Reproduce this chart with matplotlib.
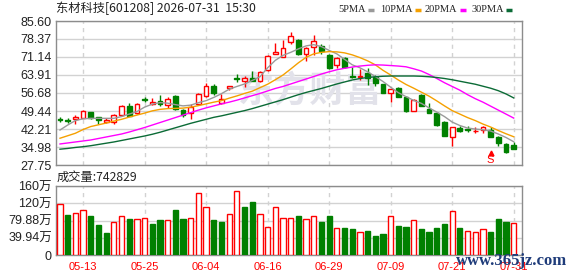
import matplotlib
matplotlib.use('Agg')
import matplotlib.pyplot as plt
from matplotlib.lines import Line2D
import numpy as np

plt.rcParams['font.family'] = ['Liberation Sans', 'Noto Sans CJK SC']

W, H = 578, 276

# trading days shown on the chart
dates = ['05-08', '05-11', '05-12', '05-13', '05-14', '05-15', '05-18', '05-19', '05-20', '05-21',
         '05-22', '05-25', '05-26', '05-27', '05-28', '05-29', '06-01', '06-02', '06-03', '06-04',
         '06-05', '06-08', '06-09', '06-10', '06-11', '06-12', '06-15', '06-16', '06-17', '06-18',
         '06-22', '06-23', '06-24', '06-25', '06-26', '06-29', '06-30', '07-01', '07-02', '07-03',
         '07-06', '07-07', '07-08', '07-09', '07-10', '07-13', '07-14', '07-15', '07-16', '07-17',
         '07-20', '07-21', '07-22', '07-23', '07-24', '07-27', '07-28', '07-29', '07-30', '07-31']

opens = [46.2, 45.7, 46.1, 46.8, 48.9, 46.9, 45.0, 45.1, 47.8, 51.6,
         48.8, 54.2, 52.3, 53.5, 51.9, 55.5, 49.9, 48.5, 52.1, 55.6,
         59.5, 52.5, 58.6, 62.7, 61.6, 62.6, 61.6, 65.9, 72.5, 71.3,
         77.0, 78.0, 72.2, 75.3, 75.6, 71.9, 67.9, 70.9, 63.4, 63.0,
         64.8, 63.0, 60.3, 56.8, 58.6, 55.2, 49.6, 55.9, 50.1, 48.8,
         45.2, 38.9, 42.8, 42.2, 41.4, 41.8, 41.8, 38.9, 36.2, 35.8]
highs = [47.2, 46.5, 47.8, 49.8, 49.2, 47.0, 46.5, 48.1, 52.0, 52.8,
         52.6, 55.2, 54.5, 55.9, 55.2, 56.0, 50.2, 52.1, 56.6, 60.6,
         60.3, 56.2, 59.6, 64.3, 63.6, 65.5, 65.5, 72.0, 76.6, 78.0,
         81.1, 78.4, 75.0, 80.0, 76.4, 72.2, 71.3, 71.3, 67.0, 66.3,
         66.6, 63.9, 60.4, 58.4, 59.0, 55.6, 54.2, 56.3, 52.5, 49.2,
         45.6, 43.0, 43.6, 43.6, 42.9, 43.4, 42.9, 39.4, 36.5, 37.1]
lows = [45.0, 44.6, 44.2, 46.5, 46.1, 44.2, 44.6, 44.4, 47.4, 47.4,
        48.4, 52.9, 51.9, 51.6, 50.5, 49.7, 47.2, 46.1, 51.9, 55.2,
        55.9, 52.1, 57.9, 61.2, 59.2, 61.3, 61.2, 65.6, 72.2, 71.3,
        76.2, 72.0, 69.5, 71.9, 72.2, 66.2, 66.8, 66.8, 62.6, 61.9,
        59.9, 59.5, 56.7, 53.2, 54.9, 49.0, 49.4, 51.5, 48.5, 43.6,
        39.2, 35.4, 40.9, 41.1, 40.5, 40.7, 39.1, 35.4, 32.5, 34.2]
closes = [46.0, 45.5, 47.2, 49.4, 46.8, 45.8, 45.8, 47.8, 51.6, 47.6,
          52.3, 54.0, 53.2, 52.1, 54.1, 50.1, 47.8, 51.2, 56.2, 59.6,
          56.8, 54.3, 59.5, 62.5, 62.6, 61.5, 65.0, 71.7, 73.0, 74.6,
          79.7, 72.2, 74.9, 77.6, 73.7, 66.6, 70.6, 67.2, 63.1, 63.4,
          62.8, 60.6, 56.8, 58.2, 54.9, 49.4, 53.9, 51.5, 48.8, 43.8,
          39.4, 42.9, 41.5, 41.9, 41.6, 42.9, 39.1, 36.7, 32.9, 34.2]

# moving averages
ma5 = [41.8, 43.8, 45.6, 46.3, 46.5, 46.5, 46.5, 46.5, 47.2, 48.2,
       49.2, 51.0, 52.2, 52.8, 52.6, 52.0, 51.5, 51.8, 52.8, 53.6,
       54.9, 56.4, 58.2, 59.3, 60.3, 61.7, 63.2, 66.8, 69.8, 71.8,
       73.0, 74.4, 75.6, 76.1, 75.3, 73.8, 72.4, 70.2, 68.0, 66.8,
       65.2, 63.3, 61.3, 59.0, 56.8, 55.2, 53.7, 52.5, 50.7, 49.0,
       47.2, 45.0, 43.6, 42.6, 42.2, 41.9, 41.4, 40.2, 38.8, 37.1]
ma10 = [38.5, 39.5, 40.5, 42.0, 43.2, 43.9, 44.6, 45.4, 46.1, 47.0,
        47.8, 48.6, 49.5, 50.1, 50.4, 50.5, 50.6, 51.0, 51.6, 52.3,
        53.0, 53.6, 54.6, 55.5, 56.5, 57.4, 58.8, 60.2, 62.0, 63.9,
        66.3, 68.8, 71.0, 72.4, 73.0, 73.3, 73.2, 72.8, 72.0, 70.9,
        69.6, 68.0, 65.8, 63.9, 61.9, 60.1, 58.6, 57.0, 55.4, 53.5,
        51.5, 49.6, 48.2, 46.8, 45.6, 44.2, 43.0, 41.6, 40.3, 39.1]
ma20 = [36.2, 36.6, 37.0, 37.4, 37.8, 38.4, 39.0, 39.6, 40.2, 41.0,
        41.9, 42.8, 43.8, 44.8, 45.8, 46.8, 47.8, 48.8, 49.8, 50.7,
        51.5, 52.3, 53.0, 53.8, 54.7, 55.6, 56.5, 57.5, 58.5, 59.3,
        60.3, 61.3, 62.3, 63.3, 64.3, 65.2, 66.0, 66.6, 67.1, 67.5,
        67.8, 68.0, 67.9, 67.7, 67.5, 67.2, 66.4, 65.5, 64.1, 62.5,
        60.8, 59.3, 57.8, 56.0, 54.4, 53.0, 51.4, 49.8, 48.2, 46.6]
ma30 = [34.1, 34.4, 34.8, 35.1, 35.5, 36.0, 36.5, 37.0, 37.6, 38.2,
        38.8, 39.4, 40.1, 40.9, 41.8, 42.7, 43.6, 44.5, 45.3, 46.1,
        46.9, 47.5, 48.2, 48.9, 49.6, 50.4, 51.3, 52.2, 53.1, 54.0,
        55.0, 56.0, 56.9, 57.7, 58.5, 59.4, 60.3, 61.1, 61.9, 62.5,
        62.9, 63.2, 63.4, 63.5, 63.5, 63.5, 63.5, 63.4, 63.2, 62.9,
        62.5, 62.0, 61.4, 60.8, 60.2, 59.4, 58.6, 57.6, 56.3, 54.7]

# volume in 万 (10k), colour = up/down vs previous close
vol = [118.5, 93.0, 97.0, 104.6, 90.7, 70.0, 51.5, 76.9, 90.0, 83.8,
       83.0, 85.4, 72.3, 81.5, 80.8, 104.6, 83.8, 85.4, 143.2, 110.8,
       81.5, 76.9, 94.6, 147.8, 111.5, 123.0, 94.6, 64.6, 110.8, 85.4,
       85.4, 90.7, 83.0, 90.0, 76.9, 90.7, 62.3, 63.0, 60.7, 53.1,
       56.1, 44.6, 49.2, 90.0, 67.7, 65.3, 80.8, 60.7, 53.8, 63.0,
       71.6, 101.6, 63.0, 56.1, 53.8, 60.0, 53.8, 83.0, 76.9, 74.28]
vol_up = [1, 0, 1, 1, 0, 0, 0, 1, 1, 0, 1, 1, 0, 0, 1, 0, 0, 1, 1, 1,
          0, 0, 1, 1, 0, 0, 1, 1, 1, 1, 1, 0, 1, 1, 0, 0, 1, 0, 0, 1,
          0, 0, 0, 1, 0, 0, 1, 0, 0, 0, 0, 1, 0, 1, 1, 1, 0, 0, 0, 1]

price_ticks = [27.75, 34.98, 42.21, 49.44, 56.68, 63.91, 71.14, 78.37, 85.60]
price_labels = ['27.75', '34.98', '42.21', '49.44', '56.68', '63.91', '71.14', '78.37', '85.60']
vol_ticks = [0, 39.94, 79.88, 120, 160]
vol_labels = ['0', '39.94万', '79.88万', '120万', '160万']
last_vol = '742829'
sell_idx = 56

RED = '#ff0000'
GREEN = '#008000'
BORDER = '#8c8c8c'
GRID = '#d2d2d2'

fig = plt.figure(figsize=(W / 100, H / 100), dpi=100)
fig.patch.set_facecolor('white')


def rect(x0, y0, x1, y1):
    return [x0 / W, 1 - y1 / H, (x1 - x0) / W, (y1 - y0) / H]


ax = fig.add_axes(rect(56, 21, 522, 165))
axv = fig.add_axes(rect(56, 186, 522, 255))

x = np.arange(len(dates))
o = np.array(opens); c = np.array(closes); h = np.array(highs); l = np.array(lows)
up = c > o
bw = 0.62
xlim = (-0.52, 60.08)

for a in (ax, axv):
    a.set_xlim(*xlim)
    for s in a.spines.values():
        s.set_color(BORDER)
        s.set_linewidth(1)
    a.tick_params(length=0, pad=3, labelsize=9, colors='#222222')
    a.set_xticks(x[3::8])
    a.grid(axis='x', color=GRID, linestyle=(0, (3, 3)), linewidth=1)
    a.grid(axis='y', color=GRID, linestyle='-', linewidth=1)
    a.set_axisbelow(True)

# watermark behind the candles
ax.text(0.545, 0.514, '东方财富', transform=ax.transAxes, fontsize=26, fontweight='bold',
        color='#e2e2ea', family='Noto Sans CJK SC', ha='center', va='center', zorder=1)

# candles
top = np.maximum(o, c); bot = np.minimum(o, c)
body = np.maximum(top - bot, 0.15)
cols = np.where(up, RED, GREEN)
ax.vlines(x, top, h, colors=cols, linewidth=1, zorder=3)
ax.vlines(x, l, bot, colors=cols, linewidth=1, zorder=3)
ax.bar(x[up], body[up], bw, bottom=bot[up], facecolor='white', edgecolor=RED, linewidth=1, zorder=4)
ax.bar(x[~up], body[~up], bw, bottom=bot[~up], facecolor=GREEN, edgecolor=GREEN, linewidth=1, zorder=4)

ax.plot(x, ma5, color='#9a9a9a', linewidth=1, zorder=5)
ax.plot(x, ma10, color='#f5a000', linewidth=1, zorder=5)
ax.plot(x, ma20, color='#ff00ff', linewidth=1, zorder=5)
ax.plot(x, ma30, color='#0b6b36', linewidth=1, zorder=5)

# sell marker
ax.plot([sell_idx], [32.6], marker='^', markersize=3.5, color=RED, zorder=6)
ax.text(sell_idx, 29.9, 'S', color=RED, fontsize=8, ha='center', va='center', zorder=6)

ax.set_ylim(27.75, 85.60)
ax.set_yticks(price_ticks)
ax.set_yticklabels(price_labels)
ax.set_xticklabels([])

# volume
vu = np.array(vol_up) == 1
v = np.array(vol)
axv.bar(x[vu], v[vu], 0.68, facecolor='white', edgecolor=RED, linewidth=1, zorder=3)
axv.bar(x[~vu], v[~vu], 0.68, facecolor=GREEN, edgecolor=GREEN, linewidth=1, zorder=3)
axv.set_ylim(0, 160)
axv.set_yticks(vol_ticks)
axv.set_yticklabels(vol_labels)
axv.set_xticklabels([dates[i] for i in x[3::8]], color=RED, fontsize=8)
axv.tick_params(axis='x', pad=5)

# header texts
fig.text(56 / W, 1 - 8 / H, '东材科技[601208] 2026-07-31  15:30', fontsize=8.8,
         family=['Noto Sans CJK SC', 'DejaVu Sans'], color='#222222', va='center', ha='left')
fig.text(57 / W, 1 - 177 / H, '成交量:' + last_vol, fontsize=8.8,
         family=['Noto Sans CJK SC', 'DejaVu Sans'], color='#222222', va='center', ha='left')

# legend row: text then a short colour dash
renderer = fig.canvas.get_renderer()
legend = [('5PMA', 338, '#9a9a9a'), ('10PMA', 380, '#f5a000'),
          ('20PMA', 425, '#ff00ff'), ('30PMA', 471, '#0b6b36')]
for name, px, col in legend:
    t = fig.text(px / W, 1 - 9 / H, name, fontsize=7.5, family='Liberation Serif',
                 color='#222222', va='center', ha='left')
    ext = t.get_window_extent(renderer)
    tx = ext.x1 + 2
    fig.add_artist(Line2D([tx / W, (tx + 6) / W], [1 - 9.5 / H, 1 - 9.5 / H],
                          color=col, linewidth=2.5, solid_capstyle='butt'))

fig.text(512 / W, 1 - 261 / H, 'www.365jz.com', fontsize=12, fontweight='bold',
         family='Liberation Serif', color='#1f3c7a', ha='center', va='center', zorder=10)

fig.savefig('out.png', dpi=100)
